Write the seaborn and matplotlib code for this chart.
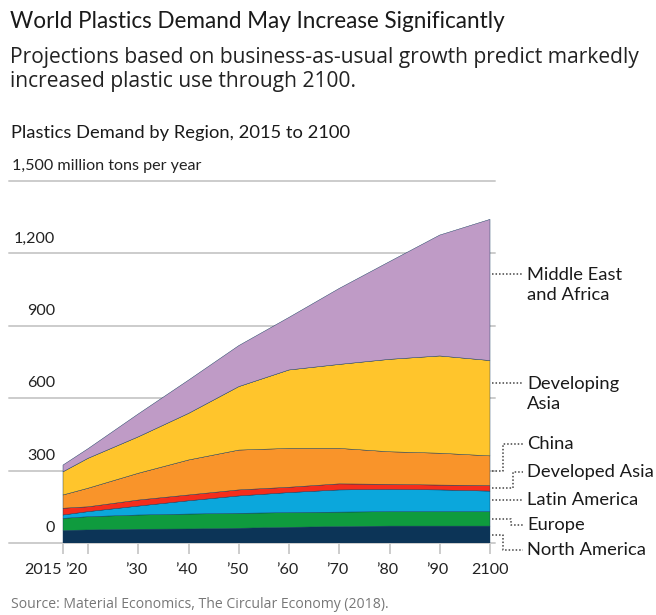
import numpy as np
import pandas as pd
import matplotlib
matplotlib.use("Agg")
import matplotlib.pyplot as plt
from matplotlib.lines import Line2D
from matplotlib.transforms import ScaledTranslation, blended_transform_factory
import seaborn as sns

# ---------------- data (million tons per year) ----------------
years = [2015, 2020, 2030, 2040, 2050, 2060, 2070, 2080, 2090, 2100]
north_america   = [52, 54, 57, 58, 61, 65, 68, 70, 70, 70]
europe          = [50, 55, 59, 62, 62, 61, 60, 60, 60, 60]
latin_america   = [14, 21, 37, 55, 72, 83, 92, 92, 90, 85]
developed_asia  = [28, 20, 25, 24, 25, 22, 25, 21, 20, 23]
china           = [55, 77, 111, 145, 165, 161, 147, 135, 132, 123]
developing_asia = [96, 124, 151, 193, 263, 325, 348, 383, 403, 395]
mid_east_africa = [28, 40, 95, 138, 170, 218, 315, 405, 501, 585]

regions = ["North America", "Europe", "Latin America", "Developed Asia",
           "China", "Developing Asia", "Middle East\nand Africa"]
series = [north_america, europe, latin_america, developed_asia,
          china, developing_asia, mid_east_africa]
colors = ["#0c3457", "#0f9b3e", "#0ba7dc", "#f42d1c", "#f9942a", "#ffc52c", "#bf9bc6"]

xtick_vals = [2015, 2020, 2030, 2040, 2050, 2060, 2070, 2080, 2090, 2100]
xtick_labels = ["2015", "\u201920", "\u201930", "\u201940", "\u201950", "\u201960",
                "\u201970", "\u201980", "\u201990", "2100"]
ytick_vals = [0, 300, 600, 900, 1200, 1500]
ytick_labels = ["0", "300", "600", "900", "1,200", "1,500 million tons per year"]

title = "World Plastics Demand May Increase Significantly"
subtitle1 = "Projections based on business-as-usual growth predict markedly"
subtitle2 = "increased plastic use through 2100."
chart_title = "Plastics Demand by Region, 2015 to 2100"
source = "Source: Material Economics, The Circular Economy (2018)."

df = pd.DataFrame({"year": years, **{r: s for r, s in zip(regions, series)}})

# ---------------- figure ----------------
sns.set_theme(style="white")
plt.rcParams["font.family"] = ["Lato", "DejaVu Sans"]

W, H = 656, 615
fig = plt.figure(figsize=(W / 100, H / 100), dpi=100)
fig.patch.set_facecolor("white")

def fx(x):
    return x / W

def fy(y):
    return 1 - y / H

ax_l, ax_r, ax_t, ax_b = 9, 495, 181, 543
ax = fig.add_axes([fx(ax_l), fy(ax_b), (ax_r - ax_l) / W, (ax_b - ax_t) / H])
ax.set_facecolor("none")

ax.stackplot(df["year"], *[df[r] for r in regions], colors=colors,
             edgecolors=colors, linewidth=0.3, zorder=2)

x_left = 2015 - (63 - ax_l) / (427 / 85)
x_right = 2100 + (ax_r - 490) / (427 / 85)
ax.set_xlim(x_left, x_right)
ax.set_ylim(0, 1500)

for s in ax.spines.values():
    s.set_visible(False)

grid_c = "#cccccc"
ax.set_yticks(ytick_vals)
ax.set_yticklabels([])
ax.tick_params(axis="y", length=0)
for v in ytick_vals:
    ax.axhline(v, color=grid_c, lw=1.4, zorder=1, clip_on=False)

renderer = fig.canvas.get_renderer()

def fit(t, target_w):
    fs = t.get_fontsize()
    w = t.get_window_extent(renderer=renderer).width
    t.set_fontsize(fs * target_w / w)
    return t

def off(dx_px, dy_px):
    return ScaledTranslation(dx_px / 100, dy_px / 100, fig.dpi_scale_trans)

# y labels: above gridlines
ylab_tr = blended_transform_factory(ax.transAxes, ax.transData) + off(0, 15)
ref = ax.text((55 - ax_l) / (ax_r - ax_l), 1200, "1,200", ha="right", va="center",
              transform=ylab_tr, color="#222222", fontsize=12)
fit(ref, 41)
yfs = ref.get_fontsize()
ref.remove()
for v, lab in zip(ytick_vals, ytick_labels):
    if v == 1500:
        ax.text((12 - ax_l) / (ax_r - ax_l), v, lab, ha="left", va="center",
                transform=ylab_tr, color="#222222", fontsize=yfs)
    else:
        ax.text((55 - ax_l) / (ax_r - ax_l), v, lab, ha="right", va="center",
                transform=ylab_tr, color="#222222", fontsize=yfs)

# x ticks (marks) and labels
ax.set_xticks(xtick_vals)
ax.set_xticklabels([])
ax.tick_params(axis="x", length=8, width=1.4, color=grid_c, bottom=True)
xbase = blended_transform_factory(ax.transData, ax.transAxes)
for v, lab in zip(xtick_vals, xtick_labels):
    if v == 2015:
        ha, dx = "right", -1
    elif v == 2020:
        ha, dx = "left", -23
    elif lab.startswith("\u2019"):
        ha, dx = "center", -2
    else:
        ha, dx = "center", 0
    ax.text(v, 0, lab, ha=ha, va="center", transform=xbase + off(dx, -27),
            color="#222222", fontsize=yfs)

# ---------------- right-side labels with dotted leaders ----------------
end_x = df["year"].iloc[-1]
cum = np.cumsum(np.array(series), axis=0)
mids = []
for i in range(len(series)):
    lo = cum[i - 1][-1] if i > 0 else 0
    hi = cum[i][-1]
    mids.append((lo + hi) / 2)

def data_to_px_y(v):
    return H - ax.transData.transform((end_x, v))[1]

lab_x = 527
label_y = {"North America": 550, "Europe": 525, "Latin America": 500,
           "Developed Asia": 472, "China": 444, "Developing Asia": 394,
           "Middle East\nand Africa": 285}
elbow_x = {"North America": 503, "Europe": 511, "Developed Asia": 513, "China": 503}
lead_c = "#444444"

def pline(xs, ys):
    fig.add_artist(Line2D([fx(x) for x in xs], [fy(y) for y in ys],
                          color=lead_c, lw=1.1, linestyle=(0, (1, 1.3)),
                          transform=fig.transFigure))

lab_texts = []
for r, m in zip(regions, mids):
    ty = label_y[r]
    disp = r.replace("Developing Asia", "Developing\nAsia")
    t = fig.text(fx(lab_x), fy(ty), disp, ha="left", va="center",
                 color="#1a1a1a", fontsize=12, linespacing=1.25)
    lab_texts.append(t)
    if r in elbow_x:
        ey = data_to_px_y(m)
        ex = elbow_x[r]
        pline([492, ex, ex, lab_x - 4], [ey, ey, ty, ty])
    else:
        first_y = ty - (11 if "\n" in disp else 0)
        pline([492, lab_x - 4], [first_y, first_y])

for t in lab_texts:
    if t.get_text() == "Developed Asia":
        fit(t, 126)
        rfs = t.get_fontsize()
for t in lab_texts:
    t.set_fontsize(rfs)

# ---------------- titles ----------------
t1 = fig.text(fx(10), fy(22), title, ha="left", va="center", color="#1a1a1a", fontsize=16)
fit(t1, 497)
s1 = fig.text(fx(10), fy(57), subtitle1, ha="left", va="center", color="#222222",
              fontsize=14, family=["Open Sans", "DejaVu Sans"])
fit(s1, 633)
fig.text(fx(10), fy(81), subtitle2, ha="left", va="center", color="#222222",
         fontsize=s1.get_fontsize(), family=["Open Sans", "DejaVu Sans"])
ct = fig.text(fx(11), fy(133), chart_title, ha="left", va="center", color="#1a1a1a", fontsize=12)
fit(ct, 338)
src = fig.text(fx(11), fy(604), source, ha="left", va="center", color="#777777",
               fontsize=9, family=["Open Sans", "DejaVu Sans"])
fit(src, 378)

fig.savefig("out.png", dpi=100, facecolor="white")
